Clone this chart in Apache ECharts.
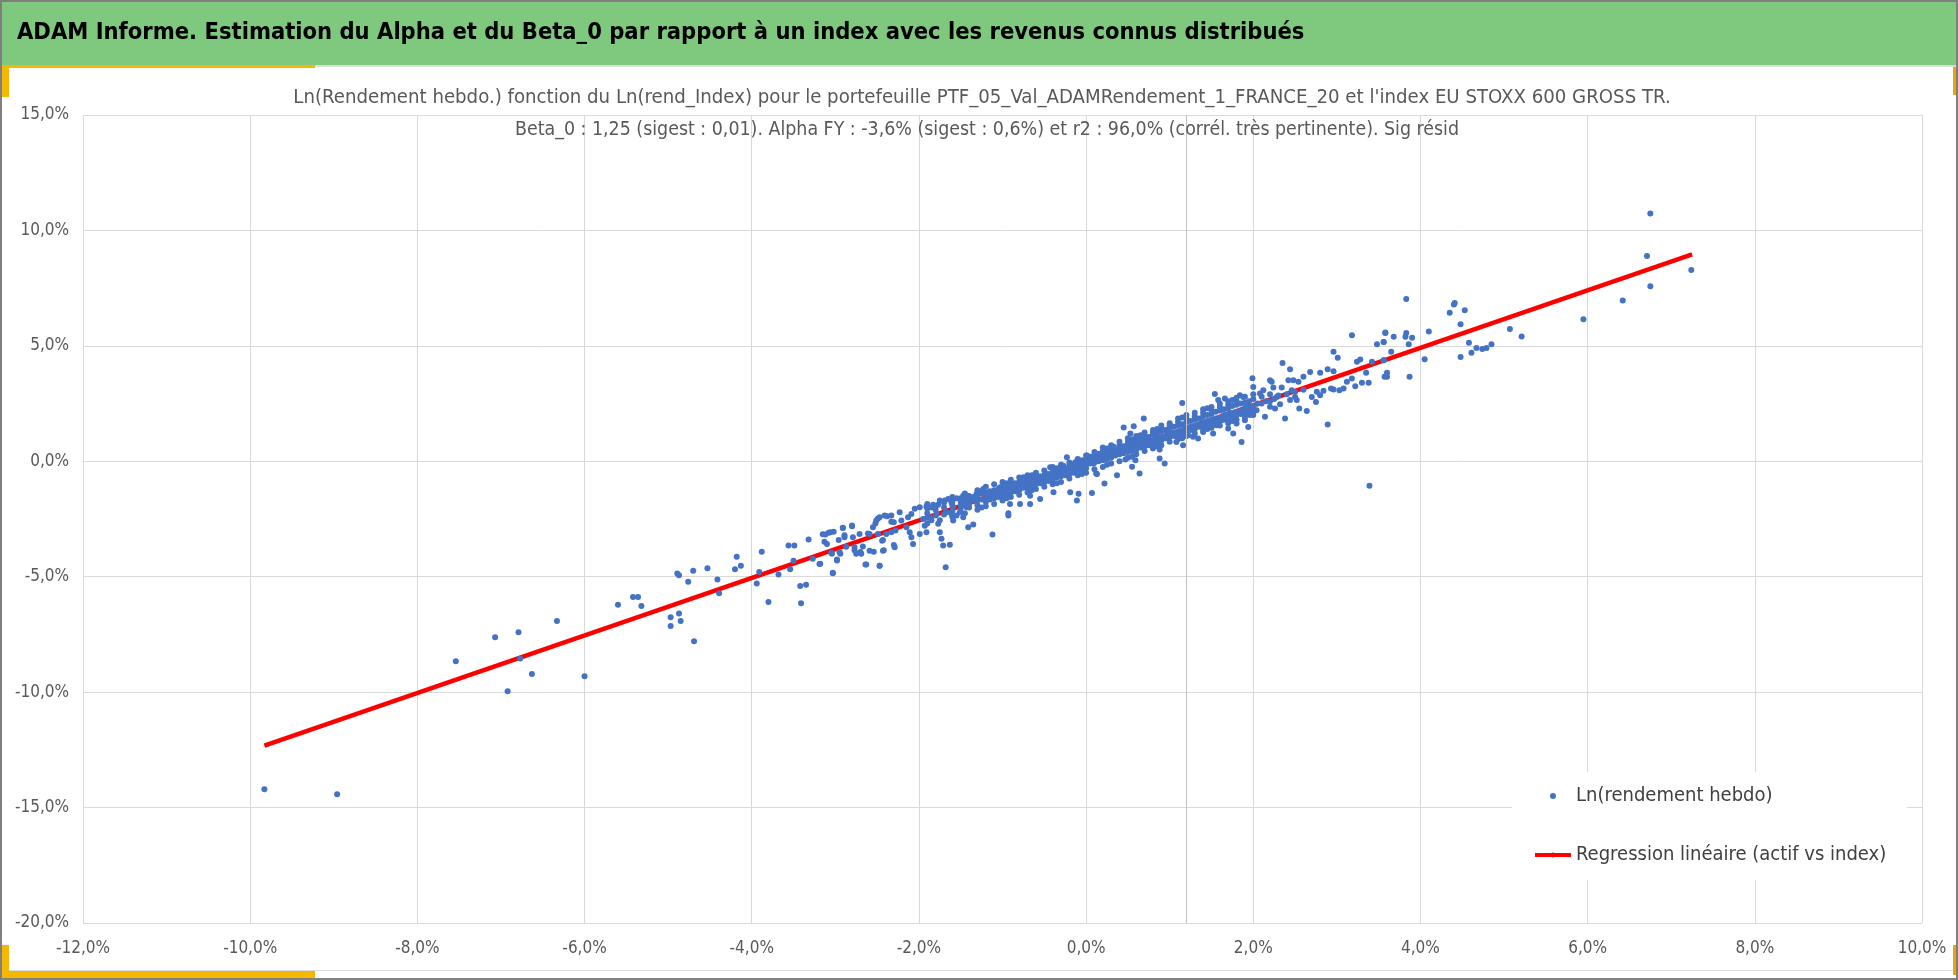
<!DOCTYPE html>
<html>
<head>
<meta charset="utf-8">
<script src="https://cdn.jsdelivr.net/npm/echarts@6/dist/echarts.min.js"></script>
<style>
  html, body { margin: 0; padding: 0; background: #fff; }
  #chart { width: 1958px; height: 980px; }
</style>
</head>
<body>
<div id="chart"></div>
<script>
// header and chart titles
var headerTitle = "ADAM Informe. Estimation du Alpha et du Beta_0 par rapport à un index avec les revenus connus distribués";
var chartTitle1 = "Ln(Rendement hebdo.) fonction du Ln(rend_Index) pour le portefeuille PTF_05_Val_ADAMRendement_1_FRANCE_20 et l'index EU STOXX 600 GROSS TR.";
var chartTitle2 = "Beta_0 : 1,25 (sigest : 0,01). Alpha FY : -3,6% (sigest : 0,6%) et r2 : 96,0% (corrél. très pertinente). Sig résid";
var scatterName = "Ln(rendement hebdo)";
var lineName = "Regression linéaire (actif vs index)";

// axes (in %)
var xMin = -12, xMax = 10, xStep = 2;
var yMin = -20, yMax = 15, yStep = 5;
var axisCrossX = 1.2;

// weekly log returns [index %, portfolio %]
var tailPoints = [
  [-9.83,-14.21],[-8.96,-14.42],[-7.54,-8.66],[-7.07,-7.62],[-6.79,-7.41],[-6.77,-8.54],[-6.63,-9.21],
  [-6.92,-9.96],[-6.33,-6.92],[-6.0,-9.31],[-5.60,-6.21],[-5.42,-5.88],[-5.36,-5.88],[-5.32,-6.27],
  [-4.97,-6.76],[-4.97,-7.13],[-4.87,-6.59],[-4.85,-6.92],[-4.69,-7.80],[-4.89,-4.86],[-4.87,-4.94],
  [-4.76,-5.22],[-4.70,-4.74],[-4.53,-4.63],[-4.41,-5.12],[-4.39,-5.72],[-4.20,-4.68],[-4.18,-4.14],
  [-4.13,-4.52],[-3.94,-5.29],[-3.91,-4.80],[-3.88,-3.92],[-3.80,-6.10],[-3.68,-4.90],[-3.56,-3.65],
  [-3.49,-3.65],[-3.50,-4.31],[-3.54,-4.68],[-3.42,-5.40],[-3.35,-5.35],[-3.41,-6.15],[-3.32,-3.39],
  [-3.27,-4.22],[-3.19,-4.45],[-3.15,-3.16],[-3.13,-3.49],[-3.08,-3.10],[-3.03,-4.83],[-3.05,-3.96],
  [-2.98,-4.25],[-2.95,-3.93],[-2.91,-2.88],[-2.89,-3.20],[-2.87,-3.70],[-2.80,-2.78],[-2.77,-3.85],
  [-2.70,-3.93],[-2.64,-4.47],[-2.61,-3.13],[-2.54,-3.92],[-2.52,-2.69],[-2.49,-2.48],[-2.47,-4.52],
  [-2.44,-3.44],[-2.42,-3.85],[-2.38,-2.38],[-2.33,-2.62],[-2.30,-3.63],[-2.28,-3.0]
];

var lowerPoints = [
  [-3.12,-3.17],[-3.06,-3.07],[-3.02,-3.05],[-2.91,-2.89],[-2.80,-2.81],[-2.96,-3.41],[-2.89,-3.29],
  [-2.79,-3.29],[-3.10,-3.58],[-3.04,-4.01],[-2.98,-4.30],[-2.94,-4.01],[-3.03,-4.85],[-3.18,-4.44],
  [-2.77,-3.72],[-2.75,-4.01],[-2.67,-3.69],[-2.69,-4.01],[-2.59,-3.87],[-2.63,-4.47],[-2.47,-4.53],
  [-2.55,-2.86],[-2.51,-2.57],[-2.47,-2.42],[-2.41,-2.35],[-2.49,-3.15],[-2.43,-3.41],[-2.39,-3.15],
  [-2.33,-3.07],[-2.30,-2.64],[-2.33,-2.35],[-2.23,-2.21],[-2.21,-2.57],[-2.15,-2.86],[-2.11,-3.07],
  [-2.09,-3.29],[-2.07,-3.58],[-2.29,-3.72],[-2.43,-3.87],[-2.59,-3.15],[-2.71,-3.15],[-2.09,-2.28],
  [-2.13,-2.42],[-2.05,-2.06],[-1.99,-1.99],[-1.91,-1.96],[-1.83,-1.88],[-1.77,-1.88],[-1.95,-2.50],
  [-1.93,-2.79],[-1.91,-3.07],[-1.99,-3.15],[-1.77,-2.71],[-1.75,-3.07],[-1.73,-3.36],[-1.71,-3.65],
  [-1.63,-3.61],[-1.68,-4.59],[-1.69,-1.70],[-1.65,-1.63],[-1.61,-1.77],[-1.59,-1.99],[-1.61,-2.28],
  [-1.59,-2.57],[-1.67,-2.21],[-1.79,-2.28],[-1.87,-2.42],
  [-1.47,-1.49],[-1.41,-2.86],[-1.35,-2.74],[-1.47,-2.42],[-1.31,-1.41],[-1.23,-1.20],[-1.12,-3.17],
  [-1.03,-1.13],[-0.95,-1.05],[-0.91,-1.85],[-0.93,-2.25],[-0.93,-2.35],[-0.79,-1.85],[-1.51,-2.21],
  [-1.43,-1.99],[-0.67,-1.49],[-0.67,-1.85],[-0.55,-1.63],[-0.39,-1.34],[-0.19,-1.34],[-0.11,-1.70],
  [-0.09,-1.41],[0.07,-1.37],[0.13,-0.55],[-0.23,0.17],[-0.43,-0.26],[-0.63,-0.62],[-0.75,-0.69],
  [-0.47,-0.55],[-0.33,-0.40],[0.01,0.25],[0.15,0.32],[-0.27,-0.19],[-0.13,-0.04]
];

var corePoints = [
  [-1.9,-2.25],[-1.9,-2.45],[-1.9,-2.05],[-1.8,-2.1],[-1.8,-2.35],[-1.8,-1.95],[-1.7,-2.0],[-1.7,-2.3],
  [-1.7,-1.8],[-1.6,-1.9],[-1.6,-2.15],[-1.6,-1.75],[-1.5,-1.75],[-1.5,-2.05],[-1.5,-1.6],[-1.5,-1.9],
  [-1.45,-1.85],[-1.45,-1.65],[-1.4,-1.6],[-1.4,-1.85],[-1.4,-2.0],[-1.4,-1.5],[-1.35,-1.7],[-1.35,-1.55],
  [-1.3,-1.45],[-1.3,-1.7],[-1.3,-1.9],[-1.3,-1.6],[-1.25,-1.4],[-1.25,-1.65],[-1.2,-1.35],[-1.2,-1.55],
  [-1.2,-1.75],[-1.2,-1.45],[-1.15,-1.3],[-1.15,-1.5],[-1.15,-1.65],[-1.1,-1.25],[-1.1,-1.45],[-1.1,-1.6],
  [-1.1,-1.35],[-1.05,-1.2],[-1.05,-1.4],[-1.05,-1.55],[-1.0,-1.1],[-1.0,-1.3],[-1.0,-1.5],[-1.0,-1.25],
  [-0.95,-1.05],[-0.95,-1.25],[-0.95,-1.4],[-0.9,-1.0],[-0.9,-1.2],[-0.9,-1.35],[-0.9,-1.1],[-0.85,-0.95],
  [-0.85,-1.15],[-0.85,-1.3],[-0.8,-0.9],[-0.8,-1.05],[-0.8,-1.25],[-0.8,-1.0],[-0.75,-0.85],[-0.75,-1.0],
  [-0.75,-1.15],[-0.7,-0.8],[-0.7,-0.95],[-0.7,-1.15],[-0.7,-0.9],[-0.65,-0.75],[-0.65,-0.9],[-0.65,-1.05],
  [-0.6,-0.7],[-0.6,-0.85],[-0.6,-1.0],[-0.6,-0.8],[-0.55,-0.65],[-0.55,-0.8],[-0.55,-0.95],[-0.5,-0.6],
  [-0.5,-0.75],[-0.5,-0.9],[-0.5,-0.7],[-0.45,-0.55],[-0.45,-0.7],[-0.45,-0.85],[-0.4,-0.45],[-0.4,-0.6],
  [-0.4,-0.8],[-0.4,-0.55],[-0.35,-0.4],[-0.35,-0.55],[-0.35,-0.7],[-0.3,-0.35],[-0.3,-0.5],[-0.3,-0.65],
  [-0.3,-0.45],[-0.25,-0.3],[-0.25,-0.45],[-0.25,-0.6],[-0.2,-0.2],[-0.2,-0.35],[-0.2,-0.55],[-0.2,-0.4],
  [-0.15,-0.15],[-0.15,-0.3],[-0.15,-0.5],[-0.1,-0.1],[-0.1,-0.25],[-0.1,-0.4],[-0.1,-0.05],[-0.05,-0.05],
  [-0.05,-0.2],[-0.05,-0.35],[0.0,0.0],[0.0,-0.15],[0.0,-0.3],[0.0,0.1],[0.05,0.05],[0.05,-0.1],[0.05,0.2],
  [0.1,0.1],[0.1,0.25],[0.1,-0.05],[0.1,0.0],[0.15,0.15],[0.15,0.3],[0.15,0.0],[0.2,0.2],[0.2,0.35],
  [0.2,0.05],[0.2,0.45],[0.25,0.25],[0.25,0.4],[0.25,0.1],[0.3,0.3],[0.3,0.45],[0.3,0.15],[0.3,0.55],
  [0.35,0.35],[0.35,0.5],[0.35,0.25],[0.4,0.4],[0.4,0.6],[0.4,0.3],[0.4,0.7],[0.45,0.5],[0.45,0.65],
  [0.45,0.35],[0.5,0.55],[0.5,0.75],[0.5,0.4],[0.5,0.85],[0.55,0.6],[0.55,0.8],[0.55,0.45],[0.6,0.65],
  [0.6,0.85],[0.6,0.5],[0.6,0.95],[0.65,0.75],[0.65,0.95],[0.65,0.6],[0.7,0.8],[0.7,1.0],[0.7,0.65],
  [0.7,1.1],[0.75,0.85],[0.75,1.05],[0.75,0.7],[0.8,0.9],[0.8,1.15],[0.8,0.75],[0.8,1.25],[0.85,1.0],
  [0.85,1.2],[0.85,0.85],[0.9,1.05],[0.9,1.3],[0.9,0.9],[0.9,1.4],[0.95,1.1],[0.95,1.35],[0.95,1.0],
  [1.0,1.2],[1.0,1.4],[1.0,1.05],[1.0,1.55],[1.05,1.25],[1.05,1.5],[1.05,1.1],[1.1,1.3],[1.1,1.55],
  [1.1,1.15],[1.1,1.7],[1.15,1.35],[1.15,1.6],[1.15,1.2],[1.2,1.45],[1.2,1.7],[1.2,1.3],[1.2,1.85],
  [1.25,1.5],[1.25,1.75],[1.25,1.35],[1.3,1.55],[1.3,1.8],[1.3,1.4],[1.3,1.95],[1.35,1.6],[1.35,1.85],
  [1.35,1.5],[1.4,1.7],[1.4,1.95],[1.4,1.55],[1.4,2.1],[1.45,1.75],[1.45,2.0],[1.45,1.6],[1.5,1.8],
  [1.5,2.05],[1.5,1.65],[1.5,2.2],[1.55,1.85],[1.55,2.15],[1.55,1.7],[1.6,1.9],[1.6,2.2],[1.6,1.75],
  [1.6,2.35],[1.65,2.0],[1.65,2.25],[1.65,1.8],[1.7,2.05],[1.7,2.3],[1.7,1.85],[1.7,2.45],[1.75,2.1],
  [1.75,2.4],[1.75,1.9],[1.8,2.15],[1.8,2.45],[1.8,2.0],[1.8,2.6],[1.85,2.2],[1.85,2.5],[1.85,2.05],
  [1.9,2.3],[1.9,2.55],[1.9,2.1],[1.95,2.35],[1.95,2.6],[1.95,2.15],[2.0,2.4],[2.0,2.7],[2.0,2.2],
  [2.1,2.5],[2.1,2.8],[2.2,2.6],[2.2,2.9]
];

// outer edges of the dense band
var coreEdgePoints = [
  [-1.9,-1.85],[-1.9,-2.7],[-1.85,-2.0],[-1.85,-2.55],[-1.75,-1.7],[-1.75,-2.55],[-1.6,-1.55],[-1.6,-2.4],
  [-1.55,-1.6],[-1.55,-2.35],[-1.45,-1.4],[-1.45,-2.25],[-1.3,-1.25],[-1.3,-2.1],[-1.25,-1.3],[-1.25,-2.0],
  [-1.2,-1.1],[-1.2,-1.95],[-1.1,-1.0],[-1.1,-1.85],[-1.0,-0.9],[-1.0,-1.7],[-0.95,-0.95],[-0.95,-1.6],
  [-0.9,-0.8],[-0.9,-1.55],[-0.8,-0.7],[-0.8,-1.45],[-0.7,-0.6],[-0.7,-1.35],[-0.65,-0.6],[-0.65,-1.25],
  [-0.6,-0.5],[-0.6,-1.2],[-0.5,-0.4],[-0.5,-1.1],[-0.4,-0.25],[-0.4,-1.0],[-0.35,-0.3],[-0.35,-0.95],
  [-0.3,-0.15],[-0.3,-0.9],[-0.2,-0.05],[-0.2,-0.75],[-0.1,0.1],[-0.1,-0.6],[-0.05,0.05],[-0.05,-0.55],
  [0.0,0.25],[0.0,-0.5],[0.1,0.4],[0.1,-0.35],[0.2,0.6],[0.2,-0.25],[0.25,0.55],[0.25,-0.15],
  [0.3,0.7],[0.3,-0.1],[0.4,0.85],[0.4,0.0],[0.5,1.0],[0.5,0.15],[0.55,0.95],[0.55,0.2],
  [0.6,1.1],[0.6,0.3],[0.7,1.25],[0.7,0.45],[0.8,1.35],[0.8,0.55],[0.85,1.4],[0.85,0.65],
  [0.9,1.55],[0.9,0.7],[1.0,1.65],[1.0,0.85],[1.1,1.85],[1.1,0.95],[1.15,1.9],[1.15,1.0],
  [1.2,2.0],[1.2,1.1],[1.3,2.1],[1.3,1.2],[1.4,2.25],[1.4,1.35],[1.45,2.3],[1.45,1.4],
  [1.5,2.35],[1.5,1.45],[1.6,2.5],[1.6,1.55],[1.7,2.6],[1.7,1.65],[1.75,2.65],[1.75,1.75],
  [1.8,2.75],[1.8,1.8],[1.9,2.8],[1.9,1.9],[2.0,2.9],[2.0,2.0]
];

var upperPoints = [
  [0.12,-0.53],[0.22,-0.96],[0.09,-0.10],[0.29,0.26],[0.37,-0.60],[0.47,0.08],[0.55,-0.24],[0.59,0.05],
  [0.64,-0.53],[0.88,0.12],[0.94,-0.10],[0.61,0.77],[0.53,1.20],[0.65,1.13],[0.45,1.46],[0.57,1.52],
  [0.69,1.85],[0.88,0.51],[0.94,1.06],[0.97,1.27],[1.00,1.49],[1.15,2.53],[1.08,0.84],[1.16,0.70],
  [1.22,1.13],[1.28,1.06],[1.34,0.99],[1.40,1.27],[1.46,1.49],[1.56,1.56],[1.52,1.20],[1.62,1.78],
  [1.54,2.91],[1.66,2.72],[1.58,2.65],[1.84,2.86],[1.88,2.79],[1.70,1.42],[1.76,1.20],[1.80,1.64],
  [1.90,1.78],[1.94,1.49],[1.86,0.84],[1.92,2.43],[1.96,2.00],[2.04,2.21],[1.99,3.60],[2.00,3.22],
  [0.45,0.63],[0.33,0.63],[0.25,0.41],[0.17,0.19]
];

var rightPoints = [
  [2.08,2.94],[2.12,3.08],[2.14,1.93],[2.20,2.36],[2.26,2.29],[2.32,2.47],[2.24,3.20],[2.20,3.51],
  [2.22,3.44],[2.28,2.79],[2.34,3.20],[2.38,1.85],[2.44,2.65],[2.52,2.65],[2.50,2.79],[2.46,3.08],
  [2.42,3.51],[2.48,3.51],[2.54,3.44],[2.60,3.66],[2.55,2.29],[2.64,2.18],[2.75,2.57],[2.80,2.86],
  [2.70,2.79],[2.76,3.01],[2.84,3.05],[2.93,3.15],[2.96,3.11],[3.03,3.08],[3.08,3.15],[3.12,3.44],
  [3.22,3.25],[3.18,3.59],[3.30,3.40],[3.38,3.40],[3.35,3.83],[3.60,3.66],[3.56,4.38],[3.42,4.31],
  [3.28,4.41],[3.24,4.31],[2.96,3.90],[2.89,3.99],[2.80,3.83],[2.68,3.87],[2.44,3.99],[2.35,4.26],
  [3.01,4.48],[2.96,4.74],[3.48,5.07],[3.56,5.17],[3.18,5.46],[3.58,5.58],[2.89,1.59],[3.39,-1.06],
  [2.05,2.5],[2.15,2.6],[2.25,2.7],[2.3,2.85],[2.4,2.9],[2.5,3.0],[2.6,3.1],
  [6.75,10.73],[6.71,8.89],[7.24,8.29],[6.75,7.58],[6.42,6.97],[5.95,6.15],[5.21,5.40],[5.07,5.73],
  [4.85,5.07],[4.79,4.91],[4.74,4.86],[4.67,4.91],[4.61,4.70],[4.58,5.13],[4.48,4.52],[4.48,5.94],
  [4.53,6.54],[4.41,6.86],[4.40,6.79],[4.35,6.43],[4.10,5.62],[4.05,4.42],[3.87,3.66],[3.83,7.03],
  [3.90,5.35],[3.82,5.39],[3.83,5.56],[3.86,5.07],[3.68,5.39],[3.58,5.56],[3.56,5.17],[3.65,4.74],
  [3.56,4.38],[3.60,3.83],[3.57,3.66]
];

// regression line end points
var regressionLine = [[-9.83,-12.32],[7.25,8.96]];

var FONT = "'Liberation Sans Narrow', 'DejaVu Sans Condensed', 'Roboto', sans-serif";

function pct(v) {
  return v.toFixed(1).replace('.', ',') + '%';
}

var chart = echarts.init(document.getElementById('chart'));

var option = {
  animation: false,
  backgroundColor: '#ffffff',
  graphic: [
    { type: 'rect', shape: { x: 0, y: 0, width: 1958, height: 65 }, style: { fill: '#7fc97f' }, z: 0 },
    { type: 'rect', shape: { x: 0, y: 65, width: 1958, height: 2 }, style: { fill: '#dcdcdc' }, z: 0 },
    { type: 'rect', shape: { x: 0, y: 65, width: 315, height: 3 }, style: { fill: '#f5b800' }, z: 1 },
    { type: 'rect', shape: { x: 2, y: 65, width: 7, height: 32 }, style: { fill: '#f5b800' }, z: 1 },
    { type: 'rect', shape: { x: 0, y: 971, width: 315, height: 7 }, style: { fill: '#f5b800' }, z: 1 },
    { type: 'rect', shape: { x: 2, y: 945, width: 7, height: 33 }, style: { fill: '#f5b800' }, z: 1 },
    { type: 'rect', shape: { x: 1953, y: 67, width: 4, height: 28 }, style: { fill: '#e8a800' }, z: 1 },
    { type: 'rect', shape: { x: 1953, y: 945, width: 4, height: 30 }, style: { fill: '#e8a800' }, z: 1 },
    { type: 'rect', shape: { x: 0, y: 970, width: 1958, height: 1 }, style: { fill: '#dcdcdc' }, z: 0 },
    { type: 'rect', shape: { x: 1, y: 1, width: 1956, height: 978 },
      style: { fill: 'none', stroke: '#7f7f7f', lineWidth: 2 }, z: 5 },
    { type: 'text', x: 17, y: 33, z: 6,
      style: { text: headerTitle, fill: '#000', font: 'bold 23.5px ' + FONT, textVerticalAlign: 'middle' } },
    { type: 'text', x: 982, y: 98, z: 6,
      style: { text: chartTitle1, fill: '#595959', font: '20.2px ' + FONT, textAlign: 'center', textVerticalAlign: 'middle' } },
    { type: 'text', x: 987, y: 130, z: 6,
      style: { text: chartTitle2, fill: '#595959', font: '19.4px ' + FONT, textAlign: 'center', textVerticalAlign: 'middle' } }
  ],
  grid: { left: 83, right: 36, top: 115, bottom: 57, outerBoundsMode: 'none' },
  legend: {
    orient: 'vertical',
    left: 1512,
    top: 772,
    backgroundColor: '#ffffff',
    padding: [12, 21, 13, 21],
    itemWidth: 36,
    itemHeight: 6,
    itemGap: 35,
    textStyle: { fontFamily: FONT, fontSize: 20, color: '#404040', lineHeight: 24 },
    data: [
      { name: scatterName, icon: 'circle' },
      { name: lineName, lineStyle: { width: 4 } }
    ]
  },
  xAxis: {
    type: 'value',
    min: xMin, max: xMax, interval: xStep,
    axisLine: { show: true, lineStyle: { color: '#d9d9d9' } },
    axisTick: { show: false },
    splitLine: { show: true, lineStyle: { color: '#d9d9d9', width: 1 } },
    axisLabel: { formatter: pct, color: '#595959', fontFamily: FONT, fontSize: 17, margin: 17 }
  },
  yAxis: {
    type: 'value',
    min: yMin, max: yMax, interval: yStep,
    axisLine: { show: false },
    axisTick: { show: false },
    splitLine: { show: true, lineStyle: { color: '#d9d9d9', width: 1 } },
    axisLabel: { formatter: pct, color: '#595959', fontFamily: FONT, fontSize: 17, margin: 14 }
  },
  series: [
    {
      name: lineName,
      type: 'line',
      data: regressionLine,
      symbol: 'none',
      z: 1,
      lineStyle: { color: '#ff0000', width: 4.5 },
      itemStyle: { color: '#ff0000' },
      markLine: {
        silent: true,
        symbol: ['none', 'none'],
        label: { show: false },
        lineStyle: { color: '#bfbfbf', type: 'solid', width: 1 },
        data: [{ xAxis: axisCrossX }]
      }
    },
    {
      name: scatterName,
      type: 'scatter',
      z: 3,
      symbolSize: 6,
      itemStyle: { color: '#4472c4', opacity: 1 },
      data: [].concat(tailPoints, lowerPoints, corePoints, coreEdgePoints, upperPoints, rightPoints)
    }
  ]
};

chart.setOption(option);
</script>
</body>
</html>
